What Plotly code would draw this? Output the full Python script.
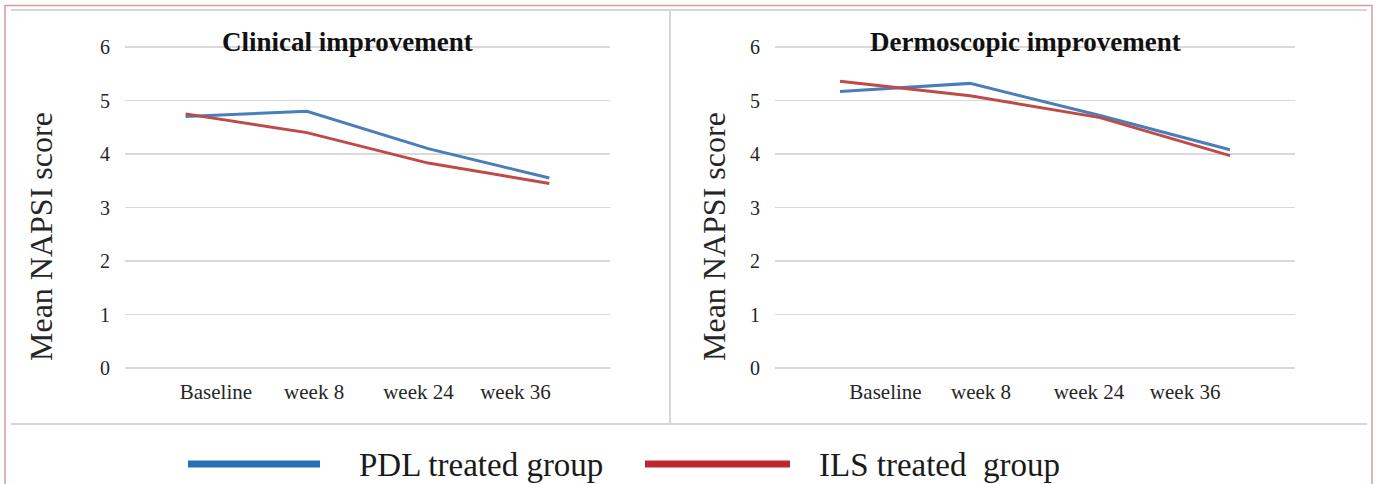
import plotly.graph_objects as go

W, H = 1377, 484

categories = ["Baseline", "week 8", "week 24", "week 36"]
clinical_pdl = [4.70, 4.80, 4.10, 3.55]
clinical_ils = [4.75, 4.40, 3.83, 3.45]
dermo_pdl = [5.17, 5.32, 4.72, 4.08]
dermo_ils = [5.36, 5.09, 4.68, 3.97]
y_ticks = [0, 1, 2, 3, 4, 5, 6]
panel_titles = ["Clinical improvement", "Dermoscopic improvement"]
y_title = "Mean NAPSI score"
series_names = ["PDL treated group", "ILS treated\u00a0 group"]

# category label positions (in category-index units) as placed in the original figure
label_pos_left = [0.25, 1.06, 1.92, 2.72]
label_pos_right = [0.35, 1.085, 1.915, 2.655]

BLUE = "#4a7ebb"
RED = "#be4b48"
LEG_BLUE = "#2a6fb5"
LEG_RED = "#c0262c"
SERIF = "Liberation Serif, Times New Roman, serif"


def px(x):
    return x / W


def py(y):
    return 1 - y / H


idx = list(range(len(categories)))

fig = go.Figure()
for ax, (pdl, ils) in zip(["", "2"], [(clinical_pdl, clinical_ils), (dermo_pdl, dermo_ils)]):
    fig.add_trace(go.Scatter(x=idx, y=pdl, mode="lines", name=series_names[0],
                             customdata=categories,
                             line=dict(color=BLUE, width=3), xaxis="x" + ax, yaxis="y" + ax,
                             showlegend=False))
    fig.add_trace(go.Scatter(x=idx, y=ils, mode="lines", name=series_names[1],
                             customdata=categories,
                             line=dict(color=RED, width=3), xaxis="x" + ax, yaxis="y" + ax,
                             showlegend=False))

ydom = [py(369.07), py(45.93)]
common_x = dict(range=[-0.5, 3.5], showgrid=False, zeroline=False,
                showline=False, ticks="", ticklabelstandoff=8, automargin=False,
                ticktext=categories,
                tickfont=dict(family=SERIF, size=21, color="#262626"), fixedrange=True)
common_y = dict(range=[-0.02, 6.02], tickvals=y_ticks, showgrid=True, gridcolor="#d9d9d9",
                gridwidth=1.2, zeroline=False, showline=False, ticks="", ticklabelstandoff=14,
                automargin=False,
                tickfont=dict(family=SERIF, size=20, color="#262626"), domain=ydom, fixedrange=True)

fig.update_layout(
    width=W, height=H, autosize=False,
    margin=dict(l=0, r=0, t=0, b=0, pad=0, autoexpand=False),
    paper_bgcolor="white", plot_bgcolor="white",
    showlegend=False,
    xaxis=dict(domain=[px(125), px(610)], anchor="y", tickvals=label_pos_left, **common_x),
    yaxis=dict(anchor="x", **common_y),
    xaxis2=dict(domain=[px(775), px(1295)], anchor="y2", tickvals=label_pos_right, **common_x),
    yaxis2=dict(anchor="x2", **common_y),
)

shapes = []
# outer pink frame
shapes.append(dict(type="rect", xref="paper", yref="paper", x0=px(5), x1=px(1372),
                   y0=py(495), y1=py(5.5), line=dict(color="#d99a9a", width=1.5)))
# inner grey frame lines
for yv in [10, 424]:
    shapes.append(dict(type="line", xref="paper", yref="paper", x0=px(11), x1=px(1367),
                       y0=py(yv), y1=py(yv), line=dict(color="#d6d6d6", width=2)))
shapes.append(dict(type="line", xref="paper", yref="paper", x0=px(670), x1=px(670),
                   y0=py(10), y1=py(424), line=dict(color="#d6d6d6", width=2)))
# legend swatches
shapes.append(dict(type="line", xref="paper", yref="paper", x0=px(188), x1=px(320),
                   y0=py(464), y1=py(464), line=dict(color=LEG_BLUE, width=7)))
shapes.append(dict(type="line", xref="paper", yref="paper", x0=px(645), x1=px(790),
                   y0=py(464), y1=py(464), line=dict(color=LEG_RED, width=7)))
fig.update_layout(shapes=shapes)

annotations = [
    dict(text="<b>" + panel_titles[0] + "</b>", x=px(347), y=py(42), xref="paper", yref="paper",
         showarrow=False, xanchor="center", yanchor="middle",
         font=dict(family=SERIF, size=27, color="#111111")),
    dict(text="<b>" + panel_titles[1] + "</b>", x=px(1025), y=py(42), xref="paper", yref="paper",
         showarrow=False, xanchor="center", yanchor="middle",
         font=dict(family=SERIF, size=27, color="#111111")),
    dict(text=y_title, x=px(41), y=py(237), xref="paper", yref="paper", textangle=-90,
         showarrow=False, xanchor="center", yanchor="middle",
         font=dict(family=SERIF, size=32, color="#262626")),
    dict(text=y_title, x=px(714), y=py(237), xref="paper", yref="paper", textangle=-90,
         showarrow=False, xanchor="center", yanchor="middle",
         font=dict(family=SERIF, size=32, color="#262626")),
    dict(text=series_names[0], x=px(357), y=py(465), xref="paper", yref="paper",
         showarrow=False, xanchor="left", yanchor="middle",
         font=dict(family=SERIF, size=33, color="#1a1a1a")),
    dict(text=series_names[1], x=px(817), y=py(465), xref="paper", yref="paper",
         showarrow=False, xanchor="left", yanchor="middle",
         font=dict(family=SERIF, size=33, color="#1a1a1a")),
]
fig.update_layout(annotations=annotations)

fig.write_html(
    "out.html",
    config={"displayModeBar": False, "staticPlot": True},
    post_script="document.body.style.margin='0px';document.body.style.padding='0px';"
                "document.body.style.overflow='hidden';",
)
